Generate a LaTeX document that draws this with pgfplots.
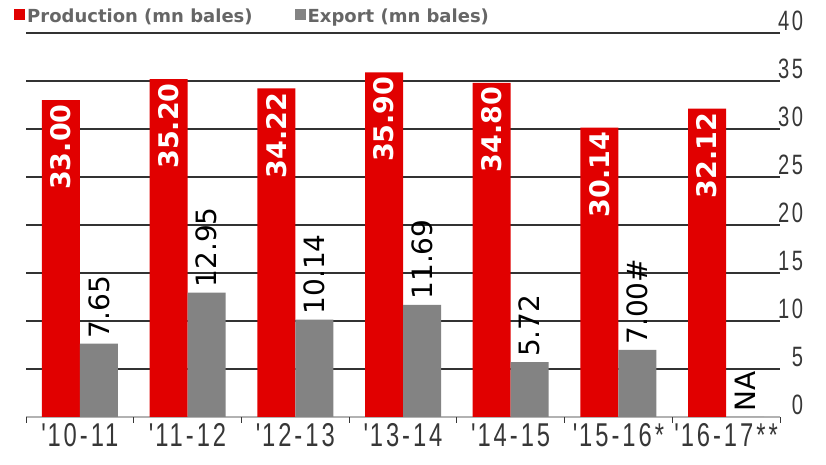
\documentclass[border=0pt]{standalone}
\usepackage{pgfplots}
\pgfplotsset{compat=1.18}
\usepackage{fontspec}
\setmainfont{DejaVu Sans}
\newfontfamily\narrowfont[FakeStretch=0.72, LetterSpace=9]{Liberation Sans}
\definecolor{barred}{RGB}{225,0,0}
\definecolor{bargray}{RGB}{131,131,131}
\definecolor{gridc}{RGB}{50,50,50}
\definecolor{tickc}{RGB}{55,55,55}
\begin{document}
\begin{tikzpicture}
\useasboundingbox (-26pt,-48pt) rectangle (800pt,417pt);
\begin{axis}[
  at={(0pt,0pt)}, anchor=south west,
  scale only axis, width=754pt, height=384pt,
  xmin=-0.5, xmax=6.5, ymin=0, ymax=40,
  ybar=0pt, bar width=38pt,
  axis x line=bottom, axis y line=right,
  axis line style={-},
  x axis line style={draw=gray!60, line width=1.2pt},
  y axis line style={draw=none},
  tick align=outside,
  xtick={0,...,6},
  xticklabels={\textquotesingle10-11,\textquotesingle11-12,\textquotesingle12-13,\textquotesingle13-14,\textquotesingle14-15,\textquotesingle15-16*,\textquotesingle16-17**},
  major x tick style={draw=none},
  extra x ticks={-0.5,0.5,...,6.5},
  extra x tick labels={},
  extra x tick style={major tick length=6pt, major x tick style={draw=tickc, line width=1pt}, grid=none},
  ytick={0,5,...,40},
  ymajorgrids,
  grid style={draw=gridc, line width=1.4pt},
  major y tick style={draw=none},
  /pgf/number format/assume math mode=true,
  yticklabel style={anchor=south east, inner sep=0pt, xshift=19pt, yshift=2pt, font=\narrowfont\fontsize{28}{28}\selectfont, text=tickc},
  xticklabel style={font=\narrowfont\fontsize{33}{33}\selectfont, text=tickc, yshift=1pt},
  point meta=explicit symbolic,
  nodes near coords,
  legend image code/.code={\fill[#1] (0pt,-4pt) rectangle (11pt,7pt);},
  legend columns=2,
  legend style={at={(rel axis cs:0,1)}, anchor=south west, xshift=-12pt, yshift=7pt, draw=none, fill=none, inner sep=0pt, font=\bfseries\fontsize{18}{18}\selectfont, text=gray!80!black, /tikz/every even column/.append style={column sep=40pt}},
]
\addplot[fill=barred, draw=none, every node near coord/.append style={rotate=90, anchor=east, text=white, font=\bfseries\fontsize{27}{27}\selectfont, inner xsep=4pt}]
  coordinates {(0,33.00) [33.00] (1,35.20) [35.20] (2,34.22) [34.22] (3,35.90) [35.90] (4,34.80) [34.80] (5,30.14) [30.14] (6,32.12) [32.12]};
\addplot[fill=bargray, draw=none, every node near coord/.append style={rotate=90, anchor=west, text=black, font=\fontsize{28}{28}\selectfont, inner xsep=5pt}]
  coordinates {(0,7.65) [7.65] (1,12.95) [12.95] (2,10.14) [10.14] (3,11.69) [11.69] (4,5.72) [5.72] (5,7.00) [7.00\#] (6,0) [NA]};
\legend{Production (mn bales), Export (mn bales)}
\end{axis}
\end{tikzpicture}
\end{document}
